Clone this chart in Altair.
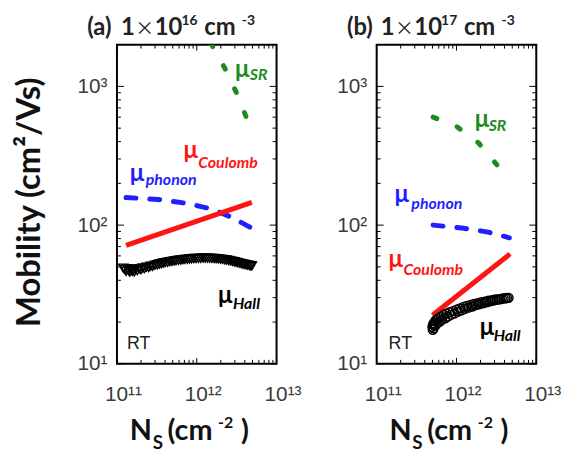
import altair as alt
import pandas as pd

# ---------------- data ----------------
# Panel (a): N = 1e16 cm^-3 ; Ns in units of 1e11 cm^-2
a_hall_ns = [1.20, 1.25, 1.30, 1.35, 1.40, 1.45, 1.50, 1.55, 1.60, 1.65, 1.70, 1.80,
             1.90, 2.00, 2.10, 2.20, 2.35, 2.50, 2.65, 2.80, 3.00, 3.20, 3.40, 3.60,
             3.80, 4.00, 4.30, 4.60, 4.90, 5.20, 5.50, 5.90, 6.30, 6.70, 7.10, 7.60,
             8.10, 8.60, 9.20, 9.80, 10.5, 11.2, 12.0, 12.8, 13.6, 14.5, 15.5, 16.5,
             17.5, 18.6, 19.8, 21.0, 22.3, 23.6, 25.0, 26.5, 28.0, 29.5, 31.0, 32.6,
             34.2, 36.0, 37.8, 39.6, 41.5, 43.5, 45.5, 47.5, 49.0]
a_hall_mu = [49.0, 48.0, 46.5, 48.5, 47.0, 45.8, 48.0, 46.5, 47.5, 46.0, 48.2, 47.0,
             48.5, 47.8, 49.2, 48.6, 49.8, 49.5, 50.6, 50.4, 51.5, 51.8, 52.4, 52.8,
             53.3, 53.6, 54.0, 54.5, 54.8, 55.2, 55.5, 55.8, 56.1, 56.4, 56.6, 56.8,
             57.0, 57.2, 57.4, 57.5, 57.6, 57.7, 57.8, 57.8, 57.8, 57.7, 57.6, 57.5,
             57.3, 57.1, 56.9, 56.6, 56.3, 56.0, 55.6, 55.2, 54.8, 54.4, 54.0, 53.6,
             53.2, 52.8, 52.4, 52.1, 51.8, 51.5, 51.2, 51.0, 50.8]
a_coul_ns = [1.3, 49.0]
a_coul_mu = [71.5, 146.0]
a_phon_ns = [1.3, 3.3, 7.8, 16.0, 28.0, 49.0]
a_phon_mu = [158.0, 153.0, 143.0, 130.0, 113.0, 95.0]
a_sr_ns = [15.0, 22.6, 30.9, 43.7, 47.5]
a_sr_mu = [2050.0, 1345.0, 921.0, 562.0, 500.0]

# Panel (b): N = 1e17 cm^-3
b_hall_ns = [5.0, 5.05, 5.1, 5.15, 5.2, 5.3, 5.4, 5.5, 5.6, 5.8, 6.0, 6.2, 6.4, 6.6,
             6.9, 7.2, 7.5, 7.8, 8.2, 8.6, 9.0, 9.5, 10.0, 10.5, 11.0, 11.6, 12.2,
             12.8, 13.5, 14.2, 15.0, 15.8, 16.6, 17.5, 18.4, 19.4, 20.4, 21.5, 22.6,
             23.8, 25.0, 26.3, 27.6, 29.0, 30.5, 32.0, 33.6, 35.2, 37.0, 39.0, 41.0,
             43.0, 45.0]
b_hall_mu = [18.5, 17.6, 19.2, 18.0, 19.6, 18.8, 20.3, 19.0, 20.8, 19.8, 21.4, 20.2,
             21.9, 20.8, 22.5, 21.3, 23.0, 21.9, 23.6, 22.6, 24.0, 23.1, 24.6, 23.8,
             25.1, 24.3, 25.7, 24.9, 26.1, 25.4, 26.6, 25.9, 27.0, 26.5, 27.4, 26.9,
             27.8, 27.3, 28.1, 27.8, 28.5, 28.2, 28.8, 28.6, 29.1, 28.9, 29.3, 29.2,
             29.5, 29.6, 29.7, 29.8, 29.9]
b_coul_ns = [5.0, 47.0]
b_coul_mu = [22.4, 62.0]
b_phon_ns = [5.1, 12.3, 25.0, 46.0]
b_phon_mu = [100.0, 95.0, 89.0, 81.0]
b_sr_ns = [5.1, 10.0, 19.0, 32.0, 35.0]
b_sr_mu = [600.0, 515.0, 390.0, 273.0, 250.0]

x_major = [1e11, 1e12, 1e13]
x_minor = [2e11, 3e11, 4e11, 5e11, 6e11, 7e11, 8e11, 9e11,
           2e12, 3e12, 4e12, 5e12, 6e12, 7e12, 8e12, 9e12]
y_major = [10, 100, 1000]
y_minor = [20, 30, 40, 50, 60, 70, 80, 90, 200, 300, 400, 500, 600, 700, 800, 900]

X_DOM = [1e11, 1e13]
Y_DOM = [10, 2000]
W, H = 161, 322

GREEN = "#1d8c1d"
BLUE = "#1f1fff"
RED = "#ff1414"

STYLES = {
    "title": dict(font="Lato", fontSize=24, fontWeight="bold"),
    "sup": dict(font="Lato", fontSize=14, fontWeight="bold"),
    "times": dict(font="Noto Sans CJK JP", fontSize=19, fontWeight="normal", align="center"),
    "mu": dict(font="Lato", fontSize=24, fontWeight="bold"),
    "sub": dict(font="Lato", fontSize=16, fontWeight="bold", fontStyle="italic"),
    "rt": dict(font="Liberation Sans", fontSize=18, fontWeight="normal"),
    "axt": dict(font="Lato", fontSize=29, fontWeight="bold"),
    "yaxt": dict(font="Lato", fontSize=33, fontWeight="bold"),
    "axsub": dict(font="Lato", fontSize=19, fontWeight="bold"),
    "axsup": dict(font="Lato", fontSize=16, fontWeight="bold"),
}

ONE = pd.DataFrame({"k": [0]})


def df(ns, mu, unit=1e11):
    return pd.DataFrame({"ns": [v * unit for v in ns], "mu": mu})


def label_axis(orient, label_expr, values, **kw):
    return alt.Axis(orient=orient, values=values, domain=False, grid=False, title=None,
                    ticks=False, labelExpr=label_expr, labelFont="Liberation Sans",
                    labelFontSize=21, labelColor="#3a3a3a", labelOverlap=False,
                    labelFlush=False, **kw)


XLAB = ("datum.value == 100000000000 ? '10¹¹' : datum.value == 1000000000000 ? '10¹²' : "
        "datum.value == 10000000000000 ? '10¹³' : ''")
YLAB = "datum.value == 10 ? '10¹' : datum.value == 100 ? '10²' : datum.value == 1000 ? '10³' : ''"


def xs(axis=None):
    return alt.X("ns:Q", scale=alt.Scale(type="log", domain=X_DOM), axis=axis)


def ys(axis=None):
    return alt.Y("mu:Q", scale=alt.Scale(type="log", domain=Y_DOM), axis=axis)


def txt(t, x, y, style, color, **extra):
    st = dict(STYLES[style])
    st.update(extra)
    return alt.Chart(ONE).mark_text(text=t, baseline=st.pop("baseline", "alphabetic"),
                                    align=st.pop("align", "left"), color=color, **st).encode(
        x=alt.value(x), y=alt.value(y))


def tick_layers():
    layers = []
    for vals, ln in ((y_major, 7), (y_minor, 4)):
        d = pd.DataFrame({"mu": vals})
        for x0, x1 in ((0, ln), (W - ln, W)):
            layers.append(alt.Chart(d).mark_rule(color="black", strokeWidth=1).encode(
                y=ys(), x=alt.value(x0), x2=alt.value(x1)))
    for vals, ln in ((x_major, 6), (x_minor, 4)):
        d = pd.DataFrame({"ns": vals})
        for y0, y1 in ((H - ln, H), (0, ln)):
            layers.append(alt.Chart(d).mark_rule(color="black", strokeWidth=1).encode(
                x=xs(), y=alt.value(y0), y2=alt.value(y1)))
    return layers


def panel(hall, hall_shape, hall_size, coul, phon, sr, labels):
    ax_b = label_axis("bottom", XLAB, x_major, labelPadding=20, labelOffset=6)
    ax_l = label_axis("left", YLAB, y_major, labelPadding=10)

    phon_l = alt.Chart(phon).mark_line(color=BLUE, strokeWidth=5, strokeDash=[10, 14],
                                       strokeCap="round", clip=True).encode(x=xs(ax_b), y=ys(ax_l))
    coul_l = alt.Chart(coul).mark_line(color=RED, strokeWidth=5, clip=True).encode(
        x=xs(), y=ys())
    sr_l = alt.Chart(sr).mark_line(color=GREEN, strokeWidth=5, strokeDash=[4, 22],
                                   strokeCap="round", clip=True).encode(x=xs(), y=ys())
    hall_p = alt.Chart(hall).mark_point(shape=hall_shape, filled=False, color="black",
                                        size=hall_size, strokeWidth=1.5, opacity=1).encode(
        x=xs(), y=ys())
    layers = [phon_l, coul_l, sr_l, hall_p] + tick_layers() + [txt(*l) for l in labels]
    return alt.layer(*layers).properties(width=W, height=H).resolve_axis(
        x="independent", y="independent")


def title_labels(letter, exp):
    return [
        (f"({letter})", -30, -10, "title", "#222"),
        ("1", 4, -10, "title", "#222"),
        ("×", 28, -10, "times", "#222"),
        ("10", 38, -10, "title", "#222"),
        (exp, 65, -20, "sup", "#222"),
        ("cm", 88, -10, "title", "#222"),
        ("-3", 126, -20, "sup", "#222"),
    ]


def xtitle_labels():
    return [
        ("N", 13, 399, "axt", "#111"),
        ("S", 36, 408, "axsub", "#111"),
        ("(cm", 51, 399, "axt", "#111"),
        ("-2", 102, 387, "axsup", "#111"),
        (")", 125, 399, "axt", "#111"),
    ]


labels_a = title_labels("a", "16") + xtitle_labels() + [
    ("μ", 119, 33, "mu", GREEN), ("SR", 134, 36, "sub", GREEN),
    ("μ", 67, 114, "mu", RED), ("Coulomb", 82, 124, "sub", RED),
    ("μ", 13, 138, "mu", BLUE), ("phonon", 29, 142, "sub", BLUE),
    ("μ", 102, 261, "mu", "black"), ("Hall", 117, 267, "sub", "black"),
    ("RT", 10, 307, "rt", "#222"),
]
labels_b = title_labels("b", "17") + xtitle_labels() + [
    ("μ", 99, 83, "mu", GREEN), ("SR", 113, 87, "sub", GREEN),
    ("μ", 18, 159, "mu", BLUE), ("phonon", 35, 166, "sub", BLUE),
    ("μ", 12, 224, "mu", RED), ("Coulomb", 27, 232, "sub", RED),
    ("μ", 104, 293, "mu", "black"), ("Hall", 118, 299, "sub", "black"),
    ("RT", 12, 307, "rt", "#222"),
]

pa = panel(df(a_hall_ns, a_hall_mu), "triangle-down", 85, df(a_coul_ns, a_coul_mu),
           df(a_phon_ns, a_phon_mu), df(a_sr_ns, a_sr_mu), labels_a)
ytitle = txt("Mobility (cm²/Vs)", -88, 159, "yaxt", "#111", angle=270, align="center",
             baseline="middle")
pa = alt.layer(pa, ytitle)

pb = panel(df(b_hall_ns, b_hall_mu), "circle", 80, df(b_coul_ns, b_coul_mu),
           df(b_phon_ns, b_phon_mu), df(b_sr_ns, b_sr_mu), labels_b)

chart = alt.hconcat(pa, pb, spacing=33).configure_view(
    stroke="black", strokeWidth=2).properties(
    padding={"left": 13, "top": 11, "right": 5, "bottom": 5}, background="white")

chart.save("out.html", embed_options={"renderer": "svg", "actions": False})
